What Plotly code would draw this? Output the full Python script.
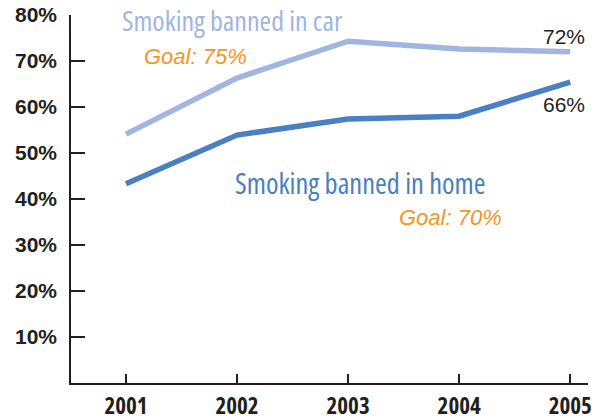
import plotly.graph_objects as go

years = [2001, 2002, 2003, 2004, 2005]
car_pct = [54.1, 66.3, 74.3, 72.6, 72.0]
home_pct = [43.3, 53.9, 57.4, 58.0, 65.4]
y_ticks = [10, 20, 30, 40, 50, 60, 70, 80]
y_tick_labels = ["10%", "20%", "30%", "40%", "50%", "60%", "70%", "80%"]
x_tick_labels = ["2001", "2002", "2003", "2004", "2005"]

LIGHT = "#A0B6E0"
DARK = "#4A7FC2"
ORANGE = "#F7941E"
AXIS = "#231F20"
SANS = "Liberation Sans"
COND = "Open Sans"


def cond(s):
    return '<span style="font-stretch:75%">' + s + '</span>'


fig = go.Figure()
fig.add_trace(go.Scatter(x=years, y=car_pct, mode="lines",
                         line=dict(color=LIGHT, width=5.5), hoverinfo="skip"))
fig.add_trace(go.Scatter(x=years, y=home_pct, mode="lines",
                         line=dict(color=DARK, width=5.5), hoverinfo="skip"))

ann = [
    dict(text=cond("Smoking banned in car"), x=2000.946, y=78.9, xanchor="left",
         font=dict(family=COND, size=28, color=LIGHT)),
    dict(text="<i>Goal: 75%</i>", x=2001.144, y=70.9, xanchor="left",
         font=dict(family=SANS, size=22, color=ORANGE)),
    dict(text="72%", x=2005.153, y=75.4, xanchor="right",
         font=dict(family=SANS, size=21, color=AXIS)),
    dict(text="66%", x=2005.153, y=60.65, xanchor="right",
         font=dict(family=SANS, size=21, color=AXIS)),
    dict(text=cond("Smoking banned in home"), x=2001.964, y=43.5, xanchor="left",
         font=dict(family=COND, size=28.5, color=DARK)),
    dict(text="<i>Goal: 70%</i>", x=2003.441, y=35.9, xanchor="left",
         font=dict(family=SANS, size=22, color=ORANGE)),
]
for a in ann:
    a.update(xref="x", yref="y", yanchor="middle", showarrow=False)
    fig.add_annotation(**a)

fig.update_layout(
    width=593, height=420,
    margin=dict(l=71, r=5, t=15, b=37),
    paper_bgcolor="white", plot_bgcolor="white",
    showlegend=False,
    xaxis=dict(range=[2000.505, 2005.16], tickvals=years,
               ticktext=[cond(t) for t in x_tick_labels],
               automargin=False,
               showgrid=False, zeroline=False, showline=True, linecolor=AXIS,
               linewidth=1.5, ticks="inside", ticklen=9, tickwidth=1.5,
               tickcolor=AXIS, ticklabelstandoff=2,
               tickfont=dict(family=COND, size=23, color=AXIS, weight="bold")),
    yaxis=dict(range=[0, 80], tickvals=y_ticks, ticktext=y_tick_labels,
               automargin=False, ticklabeloverflow="allow",
               showgrid=False, zeroline=False, showline=True, linecolor=AXIS,
               linewidth=1.5, ticks="inside", ticklen=14, tickwidth=1.5,
               tickcolor=AXIS, ticklabelstandoff=8,
               tickfont=dict(family=SANS, size=21, color=AXIS, weight="bold")),
)

fig.write_html("out.html",
               config={"displayModeBar": False},
               post_script="document.body.style.margin='0';"
                           "document.body.style.overflow='hidden';")
